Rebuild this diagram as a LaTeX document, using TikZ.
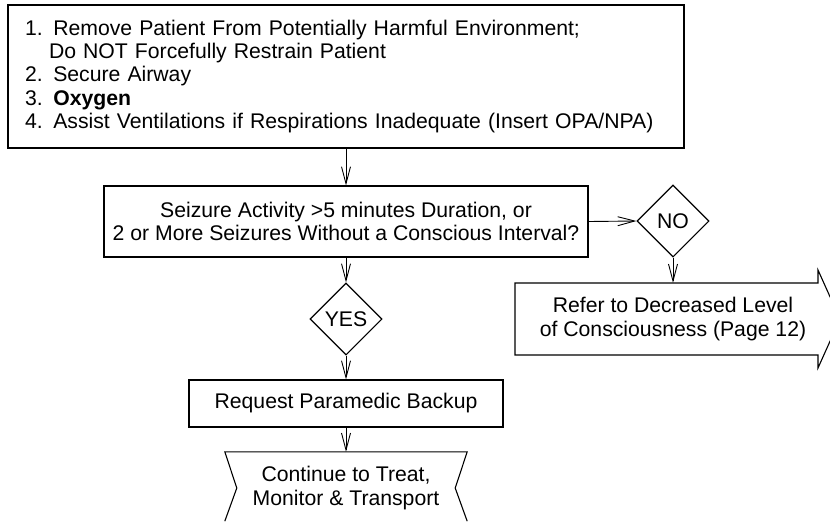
\documentclass[tikz,border=0pt]{standalone}
\usepackage{fontspec}
\setmainfont{Liberation Sans}
\usetikzlibrary{arrows.meta,shapes.geometric}
\begin{document}
\begin{tikzpicture}[x=1pt,y=-1pt,>={Straight Barb[length=17pt,width=9pt]},
        font=\fontsize{21.2}{23.3}\selectfont,
        box/.style={draw,line width=1.1pt,rectangle,inner sep=0pt,align=center},
        choice/.style={draw,line width=1.1pt,diamond,shape aspect=1,inner sep=0pt,minimum width=72pt,minimum height=72pt},
        link/.style={->,line width=0.9pt}]
        \clip(0,0)rectangle(830,523);
        \node[box,align=left,minimum width=676pt,minimum height=143pt,text width=642pt](steps)at(346,76.5)
            {1. Remove Patient From Potentially Harmful Environment;\\
             \hspace*{24pt}Do NOT Forcefully Restrain Patient\\
             2. Secure Airway\\
             3. \textbf{Oxygen}\\
             4. Assist Ventilations if Respirations Inadequate (Insert OPA/NPA)};
        \node[box,minimum width=484pt,minimum height=71pt](seizure)at(346,221.5)
            {Seizure Activity >5 minutes Duration, or\\2 or More Seizures Without a Conscious Interval?};
        \node[choice](no)at(673,221){NO};
        \node[choice](yes)at(346,319){YES};
        \node[box,minimum width=314pt,minimum height=47pt](backup)at(346,403.5){Request Paramedic Backup};
        \node[align=center,inner sep=0pt,minimum height=72pt](refer)at(673,319)
            {Refer to Decreased Level\\of Consciousness (Page 12)};
        \node[align=center,inner sep=0pt,minimum width=242pt,minimum height=72pt](cont)at(346,488)
            {Continue to Treat,\\Monitor \& Transport};
        \draw[line width=1.1pt]([shift={(-158,-36)}]refer.center)--++(303,0)--++(0,-13)--++(22,49)--++(-22,49)--++(0,-13)--++(-303,0)--cycle;
        \draw[line width=1.1pt]([yshift=3pt]cont.south west)--([xshift=12pt]cont.west)--(cont.north west)--(cont.north east)--([xshift=-12pt]cont.east)--([yshift=3pt]cont.south east);
        \draw[link](steps.south)--(seizure.north);
        \draw[link](seizure.east)--(no.west);
        \draw[link](no.south)--(refer.north);
        \draw[link](seizure.south)--(yes.north);
        \draw[link](yes.south)--(backup.north);
        \draw[link](backup.south)--(cont.north);
\end{tikzpicture}
\end{document}
